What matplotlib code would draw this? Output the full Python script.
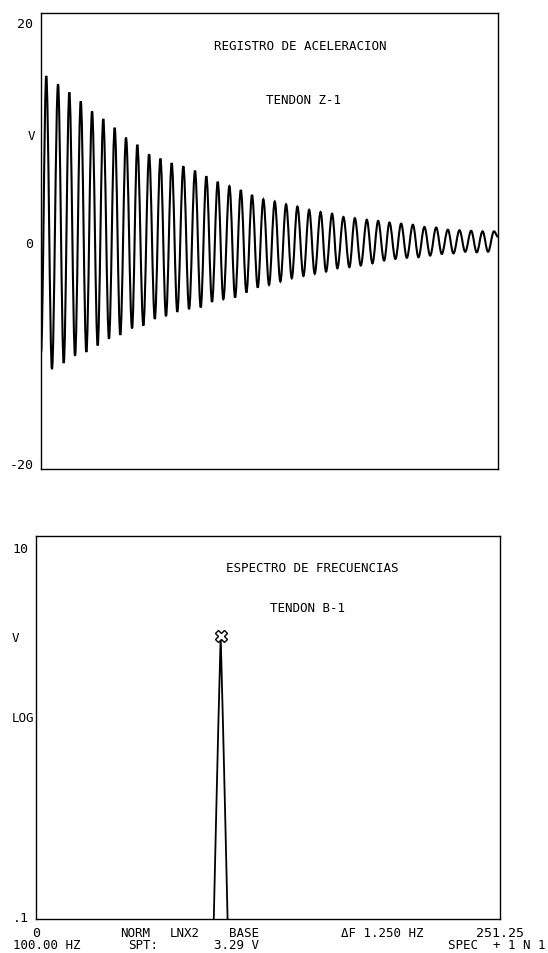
import numpy as np
import matplotlib
matplotlib.use("Agg")
import matplotlib.pyplot as plt
from matplotlib.path import Path
from matplotlib.patches import PathPatch
from matplotlib.ticker import NullLocator

plt.rcParams["font.family"] = ["DejaVu Sans Mono"]

# acceleration record (time in ms, volts)
start_t, start_v = 0.0, -10.0
end_t, end_v = 400.0, 0.5
peak_t = [4.6, 14.9, 24.8, 34.8, 44.7, 54.5, 64.5, 74.4, 84.3, 94.6,
          104.5, 114.4, 124.6, 134.8, 144.7, 154.7, 164.9, 174.9, 184.7, 194.6,
          204.6, 214.5, 224.4, 234.7, 244.7, 254.8, 264.7, 274.7, 285.2, 295.1,
          305.0, 315.2, 325.5, 335.6, 345.9, 356.1, 366.3, 376.5, 386.5, 396.5]
peak_v = [15.1, 14.35, 13.6, 12.8, 11.9, 11.2, 10.4, 9.5, 8.85, 8.0,
          7.6, 7.2, 6.9, 6.5, 6.0, 5.5, 5.1, 4.75, 4.3, 3.9,
          3.7, 3.45, 3.25, 2.95, 2.75, 2.6, 2.3, 2.2, 2.05, 1.95,
          1.8, 1.7, 1.6, 1.4, 1.35, 1.15, 1.1, 1.05, 1.0, 1.0]
trough_t = [9.6, 19.9, 29.8, 39.7, 49.6, 59.5, 69.4, 79.7, 89.6, 99.6,
            109.4, 119.3, 129.6, 139.8, 149.7, 159.6, 169.9, 179.8, 189.7, 199.6,
            209.5, 219.5, 229.7, 239.6, 249.5, 259.4, 269.9, 279.9, 290.1, 300.3,
            310.2, 320.2, 330.4, 340.6, 350.8, 361.0, 371.3, 381.4, 391.3]
trough_v = [-11.5, -10.95, -10.3, -9.95, -9.35, -8.75, -8.4, -7.8, -7.55, -6.95,
            -6.7, -6.3, -6.05, -5.9, -5.4, -5.15, -5.0, -4.55, -4.1, -3.85,
            -3.55, -3.25, -3.05, -2.85, -2.65, -2.35, -2.25, -2.1, -1.9, -1.65,
            -1.5, -1.4, -1.35, -1.2, -1.05, -1.0, -0.85, -0.9, -0.85]

# frequency spectrum (Hz, volts, log scale)
freq = [0.0, 95.0, 96.25, 97.5, 98.75, 100.0, 101.25, 102.5, 103.75, 105.0, 251.25]
amp = [0.01, 0.01, 0.095, 0.33, 1.1, 3.29, 1.1, 0.33, 0.095, 0.01, 0.01]
peak_freq, peak_amp = 100.0, 3.29

W, H = 548, 954


def box(l, t, r, b):
    return [l / W, 1 - b / H, (r - l) / W, (b - t) / H]


def px(x, y):
    return x / W, 1 - y / H


fig = plt.figure(figsize=(W / 100, H / 100), dpi=100)

# ---- top panel: acceleration record
ax1 = fig.add_axes(box(41, 14, 498, 470))
t = np.concatenate([[start_t], peak_t, trough_t, [end_t]])
v = np.concatenate([[start_v], peak_v, trough_v, [end_v]])
order = np.argsort(t)
t, v = t[order], v[order]

# smooth half-waves between the extremes (cubic curves with flat tangents)
verts = [(t[0], v[0])]
codes = [Path.MOVETO]
for i in range(len(t) - 1):
    dt = t[i + 1] - t[i]
    verts += [(t[i] + 0.36 * dt, v[i]), (t[i + 1] - 0.36 * dt, v[i + 1]), (t[i + 1], v[i + 1])]
    codes += [Path.CURVE4] * 3
ax1.add_patch(PathPatch(Path(verts, codes), fill=False, lw=1.5, ec="black"))

ax1.set_xlim(0, 400)
ax1.set_ylim(-20.55, 20.8)
ax1.set_xticks([])
ax1.set_yticks([-20, 0, 20], labels=["-20", "0", "20"])
ax1.tick_params(axis="y", length=0, pad=5.5, labelsize=9.5)

fig.text(*px(300, 46), "REGISTRO DE ACELERACION", ha="center", va="center", fontsize=9)
fig.text(*px(303, 101), "TENDON Z-1", ha="center", va="center", fontsize=9)
fig.text(*px(31, 137), "V", ha="center", va="center", fontsize=9)

# ---- bottom panel: frequency spectrum
ax2 = fig.add_axes(box(36, 537, 500, 920))
ax2.plot(freq, amp, color="black", lw=1.3)
ax2.plot([peak_freq], [peak_amp], marker="X", ms=8, mfc="white", mec="black", mew=1.0)
ax2.set_yscale("log")
ax2.set_xlim(0, 251.25)
ax2.set_ylim(0.096, 11.5)
ax2.yaxis.set_minor_locator(NullLocator())
ax2.set_yticks([0.1, 10], labels=[".1", "10"])
for lab in ax2.get_yticklabels():
    lab.set_horizontalalignment("left")
ax2.tick_params(axis="y", length=0, pad=17, labelsize=9.5)
ax2.set_xticks([0, 251.25], labels=["0", "251.25"])
ax2.tick_params(axis="x", length=0, pad=5, labelsize=9.5)

fig.text(*px(312, 569), "ESPECTRO DE FRECUENCIAS", ha="center", va="center", fontsize=9)
fig.text(*px(307, 608), "TENDON B-1", ha="center", va="center", fontsize=9)
fig.text(*px(12, 638), "V", ha="left", va="center", fontsize=9)
fig.text(*px(12, 718), "LOG", ha="left", va="center", fontsize=9)

# footer lines of the analyser print-out
row1, row2 = 934, 946
fig.text(*px(135, row1), "NORM", ha="center", va="center", fontsize=9)
fig.text(*px(185, row1), "LNX2", ha="center", va="center", fontsize=9)
fig.text(*px(244, row1), "BASE", ha="center", va="center", fontsize=9)
fig.text(*px(382, row1), "\u0394F 1.250 HZ", ha="center", va="center", fontsize=9)
fig.text(*px(47, row2), "100.00 HZ", ha="center", va="center", fontsize=9)
fig.text(*px(143, row2), "SPT:", ha="center", va="center", fontsize=9)
fig.text(*px(237, row2), "3.29 V", ha="center", va="center", fontsize=9)
fig.text(*px(497, row2), "SPEC  + 1 N 1", ha="center", va="center", fontsize=9)

for ax in (ax1, ax2):
    for s in ax.spines.values():
        s.set_linewidth(1.0)

fig.savefig("out.png", dpi=100)
